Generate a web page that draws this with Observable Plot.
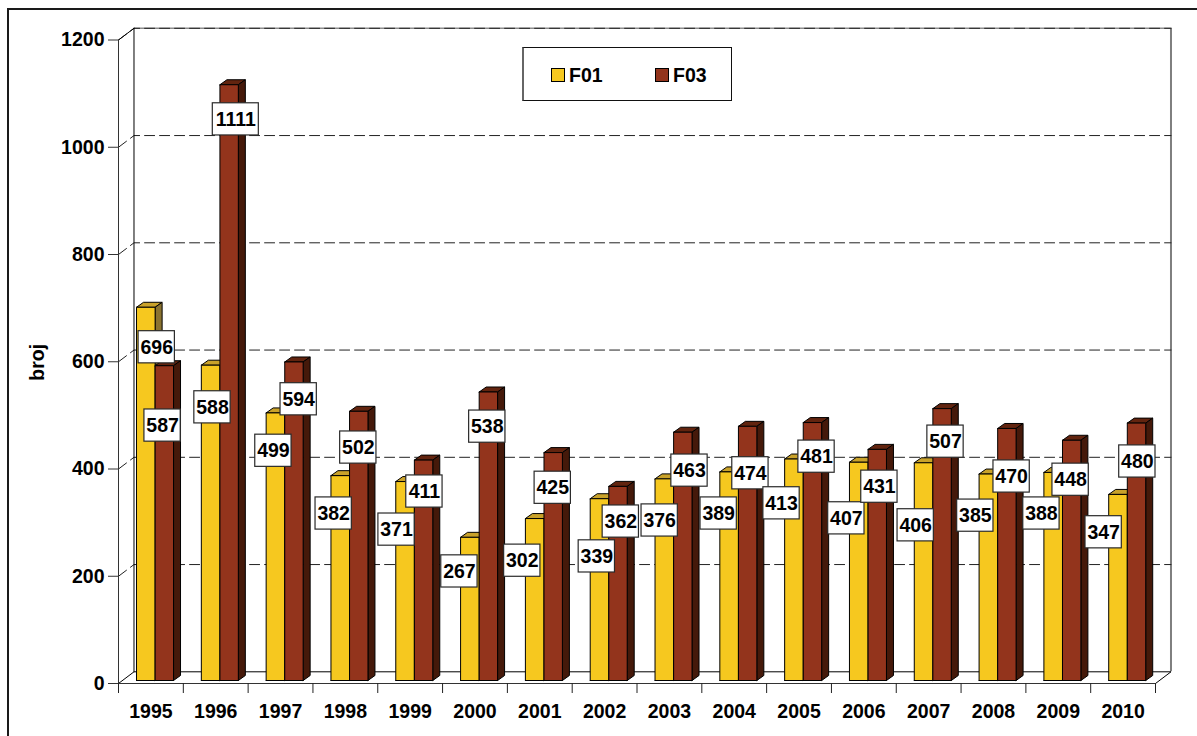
<!DOCTYPE html>
<html><head><meta charset="utf-8">
<script src="https://cdn.jsdelivr.net/npm/d3@7"></script>
<script src="https://cdn.jsdelivr.net/npm/@observablehq/plot@0.6"></script>
<style>
html,body{margin:0;padding:0;background:#fff;overflow:hidden}
#wrap{position:relative;width:1197px;height:736px;font-family:"Liberation Sans",Arial,sans-serif}
#frame{position:absolute;left:7px;top:8px;width:1300px;height:900px;border:2px solid #1a1a1a;box-sizing:border-box}
#legendBox{position:absolute;left:522px;top:47px;width:210px;height:54px;box-sizing:border-box;border:1px solid #111;border-left:2px solid #666;background:#fff;font-weight:bold;font-size:19.5px;color:#000}
#legendBox i{position:absolute;top:20px;width:12px;height:12px;border:1px solid #000}
#legendBox span{position:absolute;top:16px;line-height:22px}
</style></head><body>
<div id="wrap"><div id="frame"></div><div id="chart" style="position:absolute;left:0;top:0"></div>
<div id="legendBox"></div></div>
<script>
const years=[1995,1996,1997,1998,1999,2000,2001,2002,2003,2004,2005,2006,2007,2008,2009,2010];
const f01=[696,588,499,382,371,267,302,339,376,389,413,407,406,385,388,347];
const f03=[587,1111,594,502,411,538,425,362,463,474,481,431,507,470,448,480];
// hand-placed label anchors, in axis units
const labelYear01=[.59,.45,.39,.32,.29,.26,.23,.38,.35,.26,.23,.23,.30,.22,.24,.20];
const labelYear03=[.68,.81,.78,.70,.72,.69,.70,.75,.81,.75,.77,.74,.76,.78,.69,.72];
const labelValue01=[627,515,434,317,287,209,229,237,304,317,336,308,295,313,317,282];
const labelValue03=[481,1052,530,440,358,479,365,302,397,392,423,367,451,386,380,414];
const yTicks=[0,200,400,600,800,1000,1200];
const seriesNames=["F01","F03"];
const colors={F01:{front:"#F6C81F",top:"#C9A22A",side:"#8A7330"},F03:{front:"#93341C",top:"#62240F",side:"#45190A"}};

const wallX=.239, wallV=21.8, barDX=.108, barDV=9.3;
const faces=[];
function pushFace(id,color,pts){pts.forEach(p=>faces.push({id,color,x:p[0],y:p[1]}));}
years.forEach((yr,i)=>{
  [["F01",f01[i],yr+.278,yr+.565],["F03",f03[i],yr+.565,yr+.849]].forEach(([s,v,l,r])=>{
    const c=colors[s];
    pushFace(yr+s+"top",c.top,[[l,v],[l+barDX,v+barDV],[r+barDX,v+barDV],[r,v],[l,v]]);
    pushFace(yr+s+"side",c.side,[[r,0],[r+barDX,barDV],[r+barDX,v+barDV],[r,v],[r,0]]);
    pushFace(yr+s+"front",c.front,[[l,0],[r,0],[r,v],[l,v],[l,0]]);
  });
});
const xStart=years[0], xEnd=years[years.length-1]+1, yMax=yTicks[yTicks.length-1];
const grid=[];
yTicks.filter(v=>v>0).forEach(v=>{grid.push({v,x:xStart,y:v},{v,x:xStart+wallX,y:v+wallV},{v,x:xEnd+wallX,y:v+wallV});});
const solid=[
  {k:"a",x:xStart,y:0},{k:"a",x:xStart+wallX,y:wallV},{k:"a",x:xEnd+wallX,y:wallV},{k:"a",x:xEnd,y:0},
  {k:"b",x:xStart+wallX,y:wallV},{k:"b",x:xStart+wallX,y:yMax+wallV},
  {k:"c",x:xStart,y:yMax},{k:"c",x:xStart+wallX,y:yMax+wallV}
];
const labels=[];
years.forEach((yr,i)=>{
  labels.push({t:f01[i],x:yr+labelYear01[i],y:labelValue01[i]});
  labels.push({t:f03[i],x:yr+labelYear03[i],y:labelValue03[i]});
});
const boxW=d=>String(d.t).length>3?.355:.28, boxH=30;
const font={fontWeight:"bold",fontSize:19.5};

const plotNode=Plot.plot({
  width:1197,height:736,marginLeft:118,marginRight:42,marginTop:39.5,marginBottom:53,
  style:{fontFamily:'"Liberation Sans",Arial,sans-serif',background:"transparent",color:"#000",overflow:"visible"},
  x:{domain:[xStart,xEnd],label:null},
  y:{domain:[0,yMax],label:null},
  marks:[
    Plot.ruleX([xEnd+wallX],{y1:wallV,y2:yMax+wallV,stroke:"#7f7f7f",strokeWidth:2}),
    Plot.ruleY([yMax+wallV],{x1:xStart+wallX,x2:xEnd+wallX,stroke:"#8c8c8c",strokeWidth:1.5}),
    Plot.line(grid,{x:"x",y:"y",z:"v",stroke:"#222",strokeWidth:1,strokeDasharray:"10 5"}),
    Plot.line(solid,{x:"x",y:"y",z:"k",stroke:"#000",strokeWidth:1}),
    Plot.ruleX([xStart],{y1:0,y2:yMax,stroke:"#333",strokeWidth:1}),
    Plot.ruleY([0],{x1:xStart,x2:xEnd,stroke:"#333",strokeWidth:1}),
    Plot.axisY({ticks:yTicks,tickSize:10,tickPadding:4,tickFormat:d=>String(d),label:null,stroke:"#333",...font}),
    Plot.axisX({ticks:[...years,xEnd],tickSize:10,tickFormat:()=>"",label:null,stroke:"#222"}),
    Plot.axisX({ticks:years.map(y=>y+.5),tickSize:0,tickPadding:21,tickFormat:d=>String(Math.floor(d)),label:null,...font}),
    Plot.text(["broj"],{frameAnchor:"left",textAnchor:"middle",dx:-81,y:()=>599,text:d=>d,rotate:-90,...font}),
    Plot.line(faces,{x:"x",y:"y",z:"id",fill:"color",stroke:"#000",strokeWidth:1,dy:-3}),
    Plot.rect(labels,{x1:d=>d.x-boxW(d),x2:d=>d.x+boxW(d),y1:d=>d.y-boxH,y2:d=>d.y+boxH,fill:"#fff",stroke:"#2a2a2a",strokeWidth:1.2}),
    Plot.text(labels,{x:"x",y:"y",text:d=>String(d.t),fill:"#000",...font})
  ]
});
document.getElementById("chart").append(plotNode);
const legendEl=document.getElementById("legendBox");
seriesNames.forEach((n,i)=>{
  const left=i?131:27;
  const sw=document.createElement("i");sw.style.left=left+"px";sw.style.background=colors[n].front;legendEl.append(sw);
  const t=document.createElement("span");t.style.left=(left+18)+"px";t.textContent=n;legendEl.append(t);
});
</script></body></html>
